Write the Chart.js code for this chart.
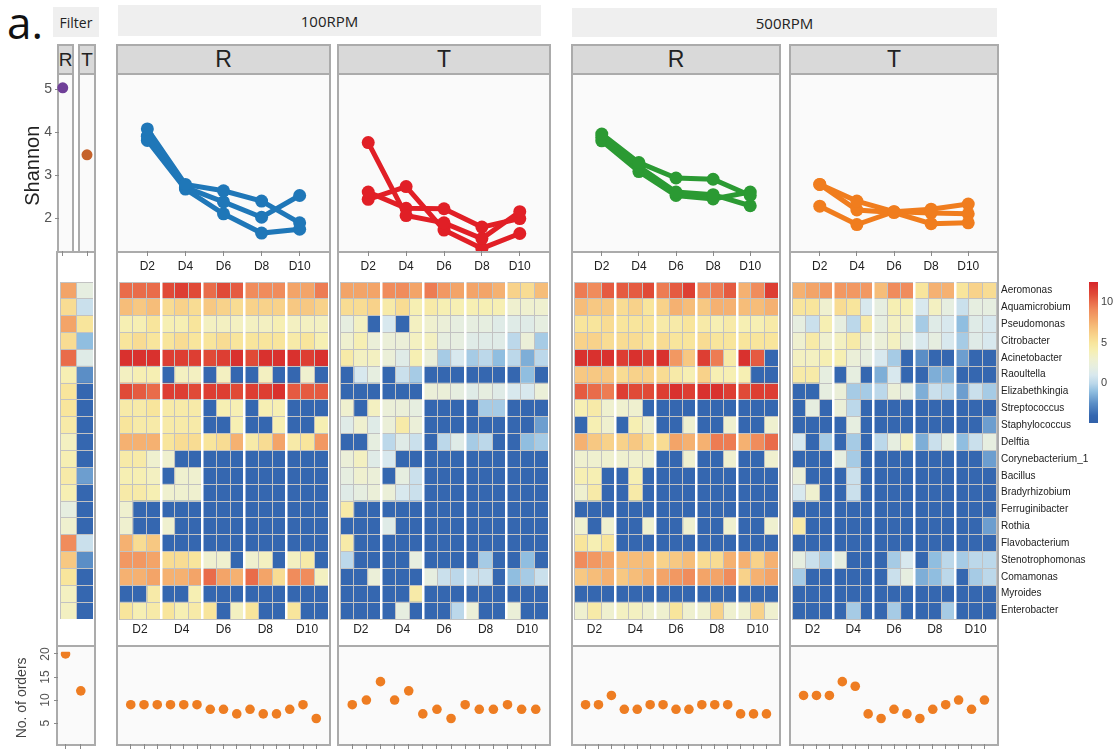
<!DOCTYPE html>
<html>
<head>
<meta charset="utf-8">
<script src="https://cdn.jsdelivr.net/npm/chart.js@4.4.1/dist/chart.umd.min.js"></script>
<style>
  body { margin: 0; background: #fff; }
  #fig { position: relative; width: 1114px; height: 749px; overflow: hidden; background: #fff;
         font-family: 'Liberation Sans', Arial, sans-serif; }
  .box { position: absolute; box-sizing: border-box; border: 2px solid #ababab; }
  .strip { background: #d9d9d9; display: flex; align-items: center; justify-content: center; color: #222; }
  .plot { background: #fafafa; }
  .white { background: #fff; }
  .head { position: absolute; background: #efefef; display: flex; align-items: center; justify-content: center;
          font-family: 'Open Sans', sans-serif; color: #222; }
  .tag { position: absolute; font-family: 'Open Sans', sans-serif; color: #111; line-height: 40px; }
  canvas { position: absolute; }
</style>
</head>
<body>
<div id="fig"></div>
<script>
// ---------- data ----------
const genera = ['Aeromonas','Aquamicrobium','Pseudomonas','Citrobacter','Acinetobacter','Raoultella',
  'Elizabethkingia','Streptococcus','Staphylococcus','Delftia','Corynebacterium_1','Bacillus',
  'Bradyrhizobium','Ferruginibacter','Rothia','Flavobacterium','Stenotrophomonas','Comamonas',
  'Myroides','Enterobacter'];
const days = ['D2','D4','D6','D8','D10'];
const colorbarTicks = [0, 5, 10];

// Shannon diversity, one list per replicate (D2..D10)
const shannonFilter = [5.04, 3.48];            // R, T
const shannon100R = [[4.10,2.80,2.65,2.41,1.90],[3.93,2.73,2.39,2.03,2.54],[3.83,2.69,2.11,1.66,1.75]];
const shannon100T = [[3.78,2.07,1.90,1.53,2.16],[2.62,2.24,2.23,1.80,2.00],[2.45,2.75,1.73,1.30,1.65]];
const shannon500R = [[3.98,3.31,2.95,2.92,2.54],[3.90,3.22,2.62,2.56,2.30],[3.82,3.10,2.54,2.46,2.62]];
const shannon500T = [[2.80,2.41,2.16,2.22,2.34],[2.80,2.20,2.14,1.88,1.90],[2.29,1.86,2.16,2.13,2.11]];

// number of orders per sample
const ordersFilter = [20, 12];
const orders100R = [9,9,9,9,9,9,8,8,7,8,7,7,8,9,6];
const orders100T = [9,10,14,10,12,7,8,6,9,8,8,9,8,8];
const orders500R = [9,9,11,8,8,9,9,8,8,9,9,9,7,7,7];
const orders500T = [11,11,11,14,13,7,6,8,7,6,8,9,10,8,10];

// log abundance per genus (rows) and sample (columns)
const heatFilter = [
  [8,2],[5.5,0.5],[8,5],[5.5,-1],[10,1.5],[4,-2.5],[5,-4],[5,-4],[4.5,-4],[3.5,-4],
  [4,-4],[4.5,-2],[4,-4],[2,-4],[3,-4],[9,0.5],[6.5,-2.5],[5,-4],[3.5,-4],[3.5,-4]
];
const heat100R = [
  [10,10,10, 11,11.5,11, 10,11,10.5, 9,9,9, 8,8,9.5],
  [7,6.5,7, 5.5,6,5.5, 6.5,6,5.5, 6,6,6, 6.5,6.5,6],
  [4,4,5, 4,4,5, 3.5,3.5,3.5, 3.5,3.5,4, 3.5,3.5,3.5],
  [5,5.5,5, 5,5.5,5, 5,5.5,5, 5,5,5, 4.5,5,4],
  [12,12,12, 11.5,11.5,11.5, 11,11.5,12, 11,12,12, 12,11.5,12],
  [3.5,4,4, -4,3.5,3.5, -4,3.5,-4, -4,3.5,-4, -4,3,-4],
  [11,10.5,10, 11.5,11.5,11, 11.5,11.5,11, 11.5,11.5,12, 10.5,10.5,10.5],
  [4.5,4.5,5, 4.5,4.5,4.5, -4,4,4, -4,4,4, -4,-4,-4],
  [5,4.5,4.5, 4.5,4.5,4.5, -4,-4,4, -4,-4,4, -4,-4,4],
  [7.5,7.5,7.5, 5,5.5,5.5, 5,5.5,7.5, 4.5,5.5,8, 4.5,5,8.5],
  [4.5,4.5,3, 3,-4,-4, -4,-4,-4, -4,-4,-4, -4,-4,-4],
  [4,4,3.5, -4,3,3, -4,-4,-4, -4,-4,-4, -4,-4,-4],
  [4.5,4.5,4, 3,3,3, -4,-4,-4, -4,-4,-4, -4,-4,-4],
  [3,-4,-4, -4,-4,-4, -4,-4,-4, -4,-4,-4, -4,-4,-4],
  [3,-4,-4, 3,-4,-4, -4,-4,-4, -4,-4,-4, -4,-4,-4],
  [7.5,5.5,6.5, -4,-4,-4, -4,-4,-4, -4,-4,-4, -4,-4,-4],
  [8.5,8.5,8, 5.5,5.5,5, 3,3,-4, 3,3.5,-4, 3.5,4.5,-4],
  [7.5,7.5,8, 7.5,7.5,8, 10,8,7.5, 10,8,5.5, 9,9,3.5],
  [-4,-4,4.5, -4,-4,4, -4,-4,-4, -4,-4,-4, -4,-4,-4],
  [5,4,4.5, 5,4,4.5, 5,-4,3.5, 5,-4,-4, 5,-4,-4]
];
const heat100T = [
  [8,8,8, 9,9,8, 9.5,8.5,8, 8,8,7.5, 6,5.5,7],
  [5.5,5.5,6, 4.5,5.5,4, 4.5,4,4, 4,4,4, 3,3,3],
  [2,3.5,-4, 1,-4,3.5, 3,2.5,2, 2,2,1.5, 1.5,1.5,2],
  [3,4,2.5, 2.5,2.5,3.5, 3.5,2,2, 1.5,1.5,1.5, 0,2.5,-0.5],
  [4.5,3.5,3.5, 2.5,1.5,4, 2.5,-0.5,1, -0.5,0,-1, 0,-1.5,0],
  [-4,1,2, -4,0.5,-0.5, -4,-4,-4, -4,-4,-4, -4,-1,-4],
  [-4,-4,-4, -4,-4,-4, 2.5,2.5,2, 1.5,2,1.5, 1,1,2.5],
  [3,-4,3.5, 2.5,2.5,2, -4,-4,-4, -4,-0.5,-0.5, -4,-4,-4],
  [1.5,3,1.5, 2.5,4.5,2.5, -4,-4,-4, -4,-4,-4, -4,-4,-2],
  [-4,-4,2, 0,1.5,0.5, -4,0,1.5, -0.5,0,-4, -4,-1,-0.5],
  [2.5,3.5,1.5, 1,-4,-4, -4,-4,-4, -4,-4,-4, -4,-4,-4],
  [2,3,2.5, -4,2,0.5, -4,-4,-4, -4,-4,-4, -4,-4,-4],
  [1.5,2,2.5, 2.5,1,0.5, -4,-4,-4, -4,-4,-4, -4,-4,-4],
  [4.5,-4,-4, -4,-4,-4, -4,-4,-4, -4,-4,-4, -4,-4,-4],
  [-4,-4,-4, 1.5,-4,-4, -4,-4,-4, -4,-4,-4, -4,-4,-4],
  [4.5,-4,-4, -4,-4,-4, -4,-4,-4, -4,-4,-4, -4,-4,-4],
  [0,-4,-4, -4,-4,2, -4,-4,-4, -4,-0.5,-4, -4,-1,-4],
  [-4,-4,2.5, -4,-4,-4, 2,0.5,0, 0.5,0.5,-4, -1,-0.5,0.5],
  [-4,-4,-4, -4,-4,4.5, -4,-4,-4, -4,-4,-4, -4,-4,-4],
  [-4,-4,-4, -4,2,-4, -4,-4,0, 2.5,-4,-4, 2.5,-4,-4]
];
const heat500R = [
  [9.5,9,10.5, 10.5,10.5,11, 9.5,10.5,11.5, 9,9.5,10.5, 7.5,9,11.5],
  [7,6.5,6.5, 5.5,6,5, 6,7.5,7, 6.5,7.5,7.5, 7,7,7.5],
  [5,5,5.5, 5,5,5, 4.5,4.5,5, 4.5,4,4.5, 4,4,4.5],
  [6,6,5.5, 5.5,5.5,5, 5.5,5,5, 5.5,5,5, 5,5,5],
  [12,12,12, 11.5,12,11.5, 12,8.5,6.5, 11.5,9.5,4.5, 12,10.5,-4],
  [6.5,6.5,6.5, 5.5,6,6, 5.5,4.5,4, 6,4,4, 4,-4,-4],
  [10.5,10,9.5, 11.5,11,11, 11.5,12,11.5, 12,12,11.5, 11,11.5,11.5],
  [4,4.5,3, 3,3,-4, -4,-4,-4, -4,-4,-4, -4,-4,-4],
  [-4,4,3, -4,4,3, -4,-4,3, -4,-4,3, -4,-4,3],
  [7.5,6.5,6, 6,6.5,5.5, 5.5,8,7.5, 7.5,9.5,9.5, 7.5,9,10],
  [3,3,3, 3,3,3, -4,-4,3, -4,-4,3, -4,-4,3],
  [4,4,-4, -4,4,-4, -4,-4,-4, -4,-4,-4, -4,-4,-4],
  [3,4.5,-4, -4,4.5,-4, -4,-4,-4, -4,-4,-4, -4,-4,-4],
  [-4,-4,-4, -4,-4,-4, -4,-4,-4, -4,-4,-4, -4,-4,-4],
  [3,-4,3, -4,-4,3, -4,-4,3, -4,-4,3, -4,-4,3],
  [5,4,5, -4,-4,-4, -4,-4,-4, -4,-4,-4, -4,-4,-4],
  [9,8.5,8, 7,7,7, 6,6.5,7, 5.5,5.5,7.5, 7.5,6,7.5],
  [6.5,7,7.5, 6.5,7,7.5, 8,8.5,9, 8,8,9, 6,7.5,8],
  [-4,-4,-4, -4,-4,-4, -4,-4,-4, -4,-4,-4, -4,-4,-4],
  [3,4.5,3, 3.5,3.5,3, 3,5,3, 3,6,3, 3,6,3]
];
const heat500T = [
  [7.5,8,8.5, 8.5,8.5,8.5, 7,9,9, 5,7.5,7.5, 5,6,5.5],
  [5,5,3, 5.5,5,1, 2,4,4, 1,3.5,2, 0.5,2,2],
  [2,0.5,4, 2,0,4.5, 2,3.5,3, -0.5,1.5,1, -1,1.5,1],
  [3,4.5,3, 3.5,4.5,2.5, 2.5,3.5,2, 1,2,1, -0.5,1.5,1],
  [3.5,3.5,4, 4,2.5,2, 1,-0.5,-4, -2.5,-4,-4, -2,-4,-4],
  [4.5,4.5,2, -4,2,-4, -1.5,1,-4, -4,-1.5,-1.5, -4,-4,-4],
  [-4,-4,2, 2.5,-0.5,-0.5, 0,2.5,2, -1.5,0.5,0, -2,0.5,-0.5],
  [-4,2,-4, 2.5,0,-4, -4,-4,-4, -4,-4,-4, -4,-4,-4],
  [-4,-4,-4, -4,2,-4, -4,-4,-4, -4,-4,-4, -4,-4,-2],
  [1,-4,-0.5, -4,-0.5,-4, 0,2,3.5, -1.5,0.5,2, -1,0.5,2],
  [-4,-4,-4, 2,-0.5,-4, -4,-4,-4, -4,-4,-4, -4,-4,-2],
  [2.5,-4,-4, -4,0.5,-4, -4,-4,-4, -4,-4,-4, -4,-4,-4],
  [1,3,-4, -4,0.5,-4, -4,-4,-4, -4,-4,-4, -4,-4,-4],
  [-4,-4,-4, -4,-4,-4, -4,-4,-4, -4,-4,-4, -4,-4,-4],
  [4.5,-4,-4, -4,-4,-4, -4,-4,-4, -4,-4,-4, -4,-4,-2],
  [-4,-4,-4, -4,-4,-4, -4,-4,-4, -4,-4,-4, -4,-4,-4],
  [2,0.5,-0.5, 2,-4,-4, -4,-0.5,1, -4,-1,0, -0.5,0,0],
  [-0.5,-4,-4, -4,-4,-4, -4,0.5,2, -1.5,-1,0, -4,-0.5,0],
  [-4,-4,-4, -4,-4,-4, -4,-4,-4, -4,-4,-4, -4,-4,-4],
  [-4,-4,-4, -4,-0.5,-4, -4,-0.5,-4, -4,-4,-0.5, -4,-4,-4]
];

// ---------- colour scale (blue - white - yellow - red) ----------
const colorStops = [
  [-4.9,'#3161a9'],[-4,'#3567b0'],[-2.5,'#5b8ec6'],[-1,'#90bee0'],[0,'#bcd8ea'],[1,'#d8e8ee'],
  [2,'#e6eee0'],[3,'#eff0cf'],[4,'#f6efb3'],[5,'#f8e59c'],[6,'#f8d28a'],[7,'#f6bd79'],
  [8,'#f3a468'],[9,'#f08c5c'],[10,'#e96c4a'],[11,'#e04a37'],[12.5,'#d6252a']
];
const SCALE_MIN = -4.9, SCALE_MAX = 12.5;
function hex(c) { return [1,3,5].map(k => parseInt(c.slice(k, k+2), 16)); }
function valueColor(v) {
  if (v <= colorStops[0][0]) return colorStops[0][1];
  for (let k = 1; k < colorStops.length; k++) {
    const [v1, c1] = colorStops[k];
    if (v <= v1) {
      const [v0, c0] = colorStops[k-1];
      const t = (v - v0) / (v1 - v0);
      const a = hex(c0), b = hex(c1);
      return 'rgb(' + a.map((x, i) => Math.round(x + (b[i] - x) * t)).join(',') + ')';
    }
  }
  return colorStops[colorStops.length-1][1];
}

// ---------- layout helpers ----------
Chart.defaults.font.family = "'Liberation Sans', Arial, sans-serif";
Chart.defaults.color = '#222';
const fig = document.getElementById('fig');

function box(cls, x, y, w, h, text, size) {
  const d = document.createElement('div');
  d.className = cls;
  Object.assign(d.style, { left: x + 'px', top: y + 'px', width: w + 'px', height: h + 'px' });
  if (text) { d.textContent = text; d.style.fontSize = size + 'px'; }
  fig.appendChild(d);
  return d;
}
function canvas(x, y, w, h) {
  const c = document.createElement('canvas');
  c.width = w; c.height = h;
  c.style.left = x + 'px'; c.style.top = y + 'px';
  fig.appendChild(c);
  return c.getContext('2d');
}
const fit = (dim, v) => s => { s[dim] = v; s.paddingLeft = s.paddingRight = s.paddingTop = s.paddingBottom = 0; };
function base() {
  return { responsive: false, animation: false, events: [], layout: { padding: 0 },
           plugins: { legend: { display: false }, tooltip: { enabled: false } } };
}

const SH_MIN = 1.24, SH_MAX = 5.21;     // shared Shannon axis
const ORD_MIN = 0.47, ORD_MAX = 20.47;  // shared orders axis
const LINE_TOP = 75, LINE_H = 176;
const HEAT_TOP = 282, HEAT_H = 337;
const ORD_TOP = 647, ORD_H = 97;

const panels = [
  { L: 116, R: 331, strip: 'R', shannon: shannon100R, color: '#1f77b8', heat: heat100R, orders: orders100R },
  { L: 337, R: 551, strip: 'T', shannon: shannon100T, color: '#e11f26', heat: heat100T, orders: orders100T },
  { L: 571, R: 781, strip: 'R', shannon: shannon500R, color: '#2b9a33', heat: heat500R, orders: orders500R },
  { L: 789, R: 999, strip: 'T', shannon: shannon500T, color: '#f07d1e', heat: heat500T, orders: orders500T }
];

// ---------- frames and headings ----------
box('tag', 7, 2, 56, 40, 'a.', 44);
box('head', 53, 7, 46, 30, 'Filter', 14);
box('head', 118, 5, 423, 31, '100RPM', 15);
box('head', 572, 8, 425, 29, '500RPM', 15);

box('box white', 56, 251, 40, 396);
box('box strip', 57, 44, 17, 31, 'R', 19);
box('box strip', 78, 44, 18, 31, 'T', 19);
box('box plot', 57, 73, 17, 180);
box('box plot', 78, 73, 18, 180);
box('box plot', 56, 645, 40, 101);
panels.forEach(P => {
  const w = P.R - P.L;
  box('box white', P.L, 251, w, 396);
  box('box strip', P.L, 44, w, 31, P.strip, 23);
  box('box plot', P.L, 73, w, 180);
  box('box plot', P.L, 645, w, 101);
});

// ---------- Shannon line panels ----------
function tickAxis(n, h) {
  return { type: 'linear', min: -0.6, max: n - 0.4,
    afterBuildTicks: s => { s.ticks = Array.from({ length: n }, (_, i) => ({ value: i })); },
    ticks: { display: false },
    grid: { drawOnChartArea: false, drawTicks: true, tickLength: 5, color: '#8a8a8a' },
    border: { display: false }, afterFit: fit('height', h) };
}
panels.forEach(P => {
  const w = P.R - P.L - 4;
  new Chart(canvas(P.L + 2, LINE_TOP, w, LINE_H + 24), {
    type: 'scatter',
    data: { datasets: P.shannon.map(s => ({
      data: s.map((v, i) => ({ x: i, y: v })), showLine: true,
      borderColor: P.color, backgroundColor: P.color, borderWidth: 5,
      pointRadius: 6.5, pointBorderWidth: 0 })) },
    options: { ...base(), scales: {
      x: { type: 'linear', min: -0.6, max: 4.6,
           afterBuildTicks: s => { s.ticks = days.map((d, i) => ({ value: i })); },
           ticks: { callback: v => days[v], color: '#222', font: { size: 12 }, padding: 3,
                    autoSkip: false, maxRotation: 0 },
           grid: { drawOnChartArea: false, drawTicks: true, tickLength: 5, color: '#8a8a8a' },
           border: { display: false }, afterFit: fit('height', 24) },
      y: { type: 'linear', min: SH_MIN, max: SH_MAX, display: false } } }
  });
});

// Filter Shannon points (R with the Shannon axis, T beside it)
new Chart(canvas(17, LINE_TOP, 55, LINE_H + 6), {
  type: 'scatter',
  data: { datasets: [{ data: [{ x: 0, y: shannonFilter[0] }], backgroundColor: '#6f3f98',
                       pointRadius: 5.5, pointBorderWidth: 0, clip: false }] },
  options: { ...base(), scales: {
    x: { ...tickAxis(1, 6), min: -1, max: 1 },
    y: { type: 'linear', min: SH_MIN, max: SH_MAX,
         afterBuildTicks: s => { s.ticks = [2, 3, 4, 5].map(v => ({ value: v })); },
         ticks: { color: '#555', font: { size: 14 }, padding: 3 },
         grid: { drawOnChartArea: false, drawTicks: true, tickLength: 4, color: '#8a8a8a' },
         border: { display: false },
         title: { display: true, text: 'Shannon', color: '#222', font: { size: 20 }, padding: { top: 4, bottom: 0 } },
         afterFit: fit('width', 42) } } }
});
new Chart(canvas(80, LINE_TOP, 14, LINE_H + 6), {
  type: 'scatter',
  data: { datasets: [{ data: [{ x: 0, y: shannonFilter[1] }], backgroundColor: '#c5622b',
                       pointRadius: 5.5, pointBorderWidth: 0, clip: false }] },
  options: { ...base(), scales: {
    x: { ...tickAxis(1, 6), min: -1, max: 1 },
    y: { type: 'linear', min: SH_MIN, max: SH_MAX, display: false } } }
});

// ---------- heatmaps (horizontal floating bars: one dataset per sample column) ----------
function heatmap(x, width, matrix, opt) {
  const nCols = matrix[0].length;
  const datasets = [];
  for (let j = 0; j < nCols; j++) {
    datasets.push({
      data: genera.map(() => [j, j + 1]),
      backgroundColor: genera.map((g, i) => valueColor(matrix[i][j])),
      borderWidth: 0, barPercentage: 1, categoryPercentage: 1, grouped: false
    });
  }
  const bottomH = opt.days ? 22 : 0;
  const labelW = opt.names ? 100 : 0;
  new Chart(canvas(x, HEAT_TOP, width + labelW, HEAT_H + bottomH), {
    type: 'bar',
    data: { labels: genera, datasets },
    options: { ...base(), indexAxis: 'y', scales: {
      y: { type: 'category', position: 'right', offset: true,
           grid: { offset: true, color: '#c2c2c2', lineWidth: 1, drawTicks: false, z: 1 },
           border: { display: false },
           ticks: { display: !!opt.names, padding: 5, color: '#222', font: { size: 10 }, autoSkip: false },
           afterFit: fit('width', labelW) },
      x: { type: 'linear', min: 0, max: nCols, position: 'bottom', display: true,
           afterBuildTicks: s => { s.ticks = days.map((d, i) => ({ value: 1.5 + 3 * i })); },
           ticks: { display: !!opt.days, callback: (v, i) => days[i], padding: 3, color: '#222',
                    font: { size: 12 }, autoSkip: false, maxRotation: 0 },
           grid: { display: false, drawTicks: false }, border: { display: false },
           afterFit: fit('height', bottomH) },
      xg: { type: 'linear', axis: 'x', min: 0, max: nCols, position: 'top', display: true,
            afterBuildTicks: s => { s.ticks = Array.from({ length: nCols + 1 }, (_, k) => ({ value: k })); },
            ticks: { display: false },
            grid: { drawTicks: false, z: 1,
                    color: c => (opt.days && c.tick.value % 3 === 0 && c.tick.value > 0 && c.tick.value < nCols) ? '#ffffff' : '#c2c2c2',
                    lineWidth: c => (opt.days && c.tick.value % 3 === 0 && c.tick.value > 0 && c.tick.value < nCols) ? 2.5 : 1 },
            border: { display: false }, afterFit: fit('height', 0) } } }
  });
}
heatmap(60, 33, heatFilter, { days: false, names: false });
panels.forEach((P, k) => {
  heatmap(P.L + 3, P.R - P.L - 6, P.heat, { days: true, names: k === panels.length - 1 });
});

// colour key
new Chart(canvas(1089, HEAT_TOP, 25, 141), {
  type: 'bar',
  data: { labels: [''], datasets: [{
    data: [[SCALE_MIN, SCALE_MAX]], borderWidth: 0, barPercentage: 1, categoryPercentage: 1,
    backgroundColor: c => {
      const ch = c.chart, ys = ch.scales.y;
      if (!ch.chartArea || !ys) return '#ccc';
      const g = ch.ctx.createLinearGradient(0, ys.getPixelForValue(SCALE_MIN), 0, ys.getPixelForValue(SCALE_MAX));
      colorStops.forEach(([v, col]) => g.addColorStop((v - SCALE_MIN) / (SCALE_MAX - SCALE_MIN), col));
      return g;
    } }] },
  options: { ...base(), scales: {
    x: { display: false },
    y: { type: 'linear', position: 'right', min: SCALE_MIN, max: SCALE_MAX,
         afterBuildTicks: s => { s.ticks = colorbarTicks.map(v => ({ value: v })); },
         ticks: { color: '#444', font: { size: 11 }, padding: 3 },
         grid: { display: false, drawTicks: false }, border: { display: false },
         afterFit: fit('width', 16) } } }
});

// ---------- number of orders ----------
panels.forEach(P => {
  const w = P.R - P.L - 4, n = P.orders.length;
  new Chart(canvas(P.L + 2, ORD_TOP, w, ORD_H + 5), {
    type: 'scatter',
    data: { datasets: [{ data: P.orders.map((v, i) => ({ x: i, y: v })), backgroundColor: '#ee7d22',
                         pointRadius: 4.8, pointBorderWidth: 0 }] },
    options: { ...base(), scales: {
      x: tickAxis(n, 5),
      y: { type: 'linear', min: ORD_MIN, max: ORD_MAX, display: false } } }
  });
});
new Chart(canvas(10, ORD_TOP, 84, ORD_H + 5), {
  type: 'scatter',
  data: { datasets: [{ data: ordersFilter.map((v, i) => ({ x: i, y: v })), backgroundColor: '#ee7d22',
                       pointRadius: 4.8, pointBorderWidth: 0 }] },
  options: { ...base(), scales: {
    x: { ...tickAxis(2, 5), min: -0.494, max: 1.55 },
    y: { type: 'linear', min: ORD_MIN, max: ORD_MAX,
         afterBuildTicks: s => { s.ticks = [5, 10, 15, 20].map(v => ({ value: v })); },
         ticks: { color: '#555', font: { size: 12 }, padding: 2, minRotation: 90, maxRotation: 90, crossAlign: 'center' },
         grid: { drawOnChartArea: false, drawTicks: true, tickLength: 4, color: '#8a8a8a' },
         border: { display: false },
         title: { display: true, text: 'No. of orders', color: '#444', font: { size: 14 }, padding: { top: 4, bottom: 0 } },
         afterFit: fit('width', 48) } } }
});
</script>
</body>
</html>
